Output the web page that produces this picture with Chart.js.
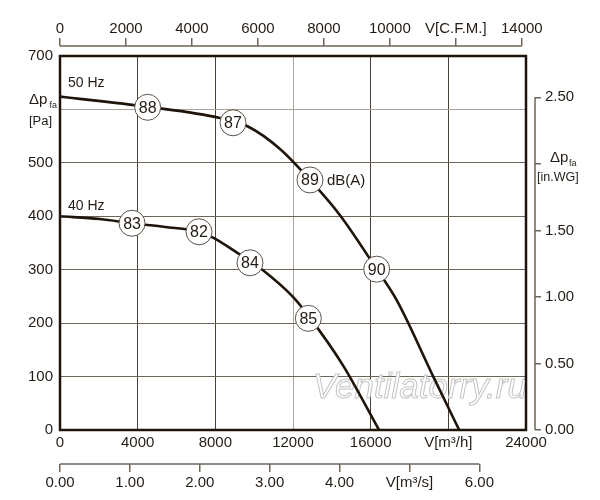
<!DOCTYPE html>
<html>
<head>
<meta charset="utf-8">
<script src="https://cdn.jsdelivr.net/npm/chart.js@4/dist/chart.umd.min.js"></script>
<style>
html,body{margin:0;padding:0;background:#fff;}
#wrap{width:600px;height:500px;}
</style>
</head>
<body>
<div id="wrap"><canvas id="c" width="600" height="500"></canvas></div>
<script>
// ---- data (airflow m3/h, pressure Pa) ----
const flow50 = [0, 4480, 8240, 9680, 11330, 12875, 14420, 16310, 17340, 19225, 20560];
const pres50 = [624, 605, 584, 568, 526, 468, 402, 301, 243, 100, 0];
const flow40 = [0, 2060, 3710, 5410, 7160, 7880, 9115, 9785, 10455, 11950, 12770, 14575, 16430];
const pres40 = [400, 395, 387, 380, 371, 360, 332, 316, 299, 251, 215, 121, 0];

const noise50Flow = [4516, 8910, 12875, 16310];
const noise50Pres = [604, 575, 468, 301];
const noise50Labels = ['88', '87', '89', '90'];
const noise40Flow = [3710, 7160, 9785, 12790];
const noise40Pres = [387, 371, 313, 209];
const noise40Labels = ['83', '82', '84', '85'];

// tick values of the secondary axes
const cfmTicks = [0, 2000, 4000, 6000, 8000, 10000, 12000, 14000];
const m3sTicks = [0, 1, 2, 3, 4, 5, 6];
const inwgTicks = [0, 0.5, 1.0, 1.5, 2.0, 2.5];

const curveNames = ['50 Hz', '40 Hz'];
const flowMax = 24000;       // m3/h
const presMax = 700;         // Pa
const cfmPerM3h = 0.5886;
const inwgPerPa = 1 / 249.0889;
const m3sPerM3h = 1 / 3600;

const FONT = "'Liberation Sans', Arial, sans-serif";
const TXT = '#231c15';
const FRAME = '#1e140a';
const GRID_DARK = '#4a4036';
const GRID_H = '#6e6458';
const GRID_LIGHT = '#aaa49a';
const AXIS_LINE = '#6e6458';

const pts = (xs, ys) => xs.map((x, i) => ({x: x, y: ys[i]}));
const setTicks = arr => s => { s.ticks = arr.map(v => ({value: v})); };

const decor = {
  id: 'decor',
  beforeDatasetsDraw(chart) {
    const ctx = chart.ctx, a = chart.chartArea;
    ctx.save();
    // watermark
    ctx.font = 'italic 35px ' + FONT;
    ctx.textBaseline = 'alphabetic';
    ctx.textAlign = 'left';
    ctx.fillStyle = '#ffffff';
    ctx.strokeStyle = '#c4c4c4';
    ctx.lineWidth = 1;
    ctx.fillText('Ventilatorry.ru', 313, 398);
    ctx.strokeText('Ventilatorry.ru', 313, 398);
    // frame
    ctx.strokeStyle = FRAME;
    ctx.lineWidth = 2.5;
    ctx.strokeRect(a.left, a.top, a.right - a.left, a.bottom - a.top);
    ctx.restore();
  },
  afterDatasetsDraw(chart) {
    const ctx = chart.ctx;
    ctx.save();
    ctx.fillStyle = TXT;
    ctx.textAlign = 'center';
    ctx.textBaseline = 'middle';
    ctx.font = '16px ' + FONT;
    [[0, noise50Labels], [1, noise40Labels]].forEach(([di, labs]) => {
      const meta = chart.getDatasetMeta(di);
      meta.data.forEach((el, i) => ctx.fillText(labs[i], el.x, el.y + 1));
    });
    ctx.textAlign = 'left';
    ctx.font = '15px ' + FONT;
    const p89 = chart.getDatasetMeta(0).data[2];
    ctx.fillText('dB(A)', p89.x + 17, p89.y + 1);
    ctx.font = '14px ' + FONT;
    ctx.fillText(curveNames[0], 68, 83);
    ctx.fillText(curveNames[1], 68, 206);
    // left axis title
    ctx.font = '15px ' + FONT;
    ctx.fillText('\u0394p', 29, 100);
    ctx.font = '9px ' + FONT;
    ctx.fillText('fa', 49.5, 106);
    ctx.font = '13px ' + FONT;
    ctx.fillText('[Pa]', 29, 121);
    // right axis title
    ctx.font = '15px ' + FONT;
    ctx.fillText('\u0394p', 550, 158);
    ctx.font = '9px ' + FONT;
    ctx.fillText('fa', 569, 164);
    ctx.font = '12.5px ' + FONT;
    ctx.fillText('[in.WG]', 537, 178);
    ctx.restore();
  },
  afterDraw(chart) {
    const ctx = chart.ctx;
    ctx.save();
    ctx.strokeStyle = AXIS_LINE;
    ctx.lineWidth = 1.5;
    const t = chart.scales.xTop;
    ctx.beginPath();
    ctx.moveTo(t.getPixelForValue(cfmTicks[0]), t.bottom);
    ctx.lineTo(t.getPixelForValue(cfmTicks[cfmTicks.length - 1]), t.bottom);
    ctx.stroke();
    const s = chart.scales.xS;
    ctx.beginPath();
    ctx.moveTo(s.getPixelForValue(m3sTicks[0]), s.top);
    ctx.lineTo(s.getPixelForValue(m3sTicks[m3sTicks.length - 1]), s.top);
    ctx.stroke();
    const r = chart.scales.yIn;
    ctx.beginPath();
    ctx.moveTo(r.left, r.getPixelForValue(inwgTicks[0]));
    ctx.lineTo(r.left, r.getPixelForValue(inwgTicks[inwgTicks.length - 1]));
    ctx.stroke();
    ctx.restore();
  }
};

const tickFont = {family: FONT, size: 15};

new Chart(document.getElementById('c'), {
  type: 'line',
  data: {
    datasets: [
      {data: pts(noise50Flow, noise50Pres), showLine: false, pointRadius: 13, pointHoverRadius: 13,
       pointBackgroundColor: '#ffffff', pointBorderColor: '#5c5248', pointBorderWidth: 1, order: 0},
      {data: pts(noise40Flow, noise40Pres), showLine: false, pointRadius: 13, pointHoverRadius: 13,
       pointBackgroundColor: '#ffffff', pointBorderColor: '#5c5248', pointBorderWidth: 1, order: 0},
      {data: pts(flow50, pres50), borderColor: FRAME, borderWidth: 2.6, pointRadius: 0,
       cubicInterpolationMode: 'monotone', fill: false, order: 1},
      {data: pts(flow40, pres40), borderColor: FRAME, borderWidth: 2.6, pointRadius: 0,
       cubicInterpolationMode: 'monotone', fill: false, order: 1}
    ]
  },
  options: {
    responsive: false,
    animation: false,
    events: [],
    layout: {padding: {top: 16, left: 0, right: 0, bottom: 0}},
    plugins: {legend: {display: false}, tooltip: {enabled: false}},
    scales: {
      x: {
        type: 'linear', position: 'bottom', weight: 0, min: 0, max: flowMax,
        ticks: {stepSize: 4000, color: TXT, font: tickFont, padding: 4, maxRotation: 0, autoSkip: false,
          callback: v => v === 20000 ? 'V[m³/h]' : String(v)},
        grid: {drawTicks: false, lineWidth: 1,
          color: c => (c.tick && c.tick.value === 12000) ? GRID_LIGHT : GRID_DARK},
        border: {display: false},
        afterFit: s => { s.height = 34; }
      },
      xS: {
        type: 'linear', position: 'bottom', weight: 2, min: 0, max: flowMax * m3sPerM3h,
        afterBuildTicks: setTicks(m3sTicks),
        ticks: {color: TXT, font: tickFont, padding: 2, maxRotation: 0, autoSkip: false,
          callback: v => v === 5 ? 'V[m³/s]' : v.toFixed(2)},
        grid: {drawOnChartArea: false, drawTicks: true, tickLength: 8, color: AXIS_LINE, lineWidth: 1.5},
        border: {display: false},
        afterFit: s => { s.height = 36; }
      },
      xTopSp: {
        type: 'linear', position: 'top', weight: 1, min: 0, max: 1,
        ticks: {display: false}, grid: {display: false}, border: {display: false},
        afterFit: s => { s.height = 10; }
      },
      xTop: {
        type: 'linear', position: 'top', weight: 2, min: 0, max: flowMax * cfmPerM3h,
        afterBuildTicks: setTicks(cfmTicks),
        ticks: {color: TXT, font: tickFont, padding: 0, maxRotation: 0, autoSkip: false,
          callback: v => v === 12000 ? 'V[C.F.M.]' : String(v)},
        grid: {drawOnChartArea: false, drawTicks: true, tickLength: 8, color: AXIS_LINE, lineWidth: 1.5},
        border: {display: false},
        afterFit: s => { s.height = 30; }
      },
      y: {
        type: 'linear', position: 'left', weight: 0, min: 0, max: presMax,
        ticks: {stepSize: 100, color: TXT, font: tickFont, padding: 7, autoSkip: false,
          callback: v => v === 600 ? '' : String(v)},
        grid: {drawTicks: false, lineWidth: 1,
          color: c => (c.tick && c.tick.value === 600) ? GRID_LIGHT : GRID_H},
        border: {display: false},
        afterFit: s => { s.width = 60; }
      },
      yRSp: {
        type: 'linear', position: 'right', weight: 1, min: 0, max: 1,
        ticks: {display: false}, grid: {display: false}, border: {display: false},
        afterFit: s => { s.width = 9; }
      },
      yIn: {
        type: 'linear', position: 'right', weight: 2, min: 0, max: presMax * inwgPerPa,
        afterBuildTicks: setTicks(inwgTicks),
        ticks: {color: TXT, font: tickFont, padding: 4, autoSkip: false,
          callback: v => v === 2 ? '' : v.toFixed(2)},
        grid: {drawOnChartArea: false, drawTicks: true, tickLength: 6, color: AXIS_LINE, lineWidth: 1.5},
        border: {display: false},
        afterFit: s => { s.width = 65; }
      }
    }
  },
  plugins: [decor]
});
</script>
</body>
</html>
